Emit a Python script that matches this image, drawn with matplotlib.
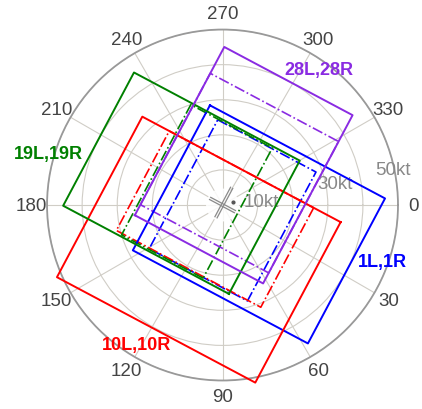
import numpy as np
import matplotlib
matplotlib.use("Agg")
import matplotlib.pyplot as plt

plt.rcParams['font.family'] = ['Liberation Sans', 'DejaVu Sans']

# Runway pairs: true heading and wind limits (kt).
runways = ['1L,1R', '10L,10R', '19L,19R', '28L,28R']
headings = [28, 118, 208, 298]
colors = ['#0000ff', '#ff0000', '#008000', '#8a2be2']

solid_tail = [16.5, 11.5, 13.5, 14.3]
solid_head = [40.0, 40.3, 40.0, 40.0]
solid_cross = [23.4, 32.0, 21.5, 20.7]

dash_tail = [12.6, 11.5, 4.9, 10.9]
dash_head = [19.1, 20.6, 21.4, 31.5]
dash_cross = [20.8, 23.3, 21.0, 20.7]

# label positions (direction deg, speed kt)
label_dir = [19.3, 121.6, 196.4, 305.5]
label_spd = [48.3, 46.6, 51.7, 47.5]

# small airport diagram in the middle: heading, length, centre offset along/across
icon_heading = [28, 28, 118, 118]
icon_length = [8.0, 8.0, 9.5, 9.5]
icon_across = [-0.35, 0.35, -0.35, 0.35]
icon_along = [0.0, 0.0, -0.8, -0.8]

theta_ticks = list(range(0, 360, 30))
r_ticks = [10, 20, 30, 40, 50]
r_labels = ['10kt', '', '30kt', '', '50kt']
# where the speed labels sit (direction deg, speed kt)
r_label_dir = [355.5, 0, 349.4, 0, 348.1]
r_label_spd = [11.0, 0, 32.6, 0, 49.7]


def to_polar(heading, u, v):
    # u = headwind component, v = crosswind component
    u = np.asarray(u, dtype=float)
    v = np.asarray(v, dtype=float)
    theta = np.radians(heading) + np.arctan2(v, u)
    return theta, np.hypot(u, v)


def box(heading, tail, head, cross):
    u = [-tail, head, head, -tail, -tail]
    v = [-cross, -cross, cross, cross, -cross]
    return to_polar(heading, u, v)


fig = plt.figure(figsize=(4.22, 4.10), dpi=100)
ax = fig.add_axes([0.1114, 0.0695, 0.8318, 0.856], projection='polar')
ax.set_theta_zero_location('E')
ax.set_theta_direction(-1)
ax.set_rlim(0, 50)

ax.set_thetagrids(theta_ticks, [str(t) for t in theta_ticks],
                  fontsize=13.5, color='#444444')
ax.set_rgrids(r_ticks, [''] * len(r_ticks))
ax.grid(color='#d0cdc6', linewidth=0.8)
ax.spines['polar'].set_color('#999999')
ax.spines['polar'].set_linewidth(1.3)
ax.tick_params(axis='x', pad=1)

for lab, d, s in zip(r_labels, r_label_dir, r_label_spd):
    if lab:
        ax.text(np.radians(d), s, lab, fontsize=13.5, color='#888888',
                ha='center', va='center', zorder=4)

# white patch behind the airport icon
circ = np.linspace(0, 2 * np.pi, 60)
ax.fill(circ, np.full_like(circ, 4.5), color='white', alpha=0.85, zorder=3)
for h, ln, ac, al in zip(icon_heading, icon_length, icon_across, icon_along):
    t, r = to_polar(h, [al - ln / 2, al + ln / 2], [ac, ac])
    ax.plot(t, r, color='#8a8a8a', lw=0.9, zorder=4)
ax.plot(np.radians(344), 3.1, 'o', color='#555555', ms=2, zorder=4)

for i in range(len(runways)):
    t, r = box(headings[i], dash_tail[i], dash_head[i], dash_cross[i])
    ax.plot(t, r, color=colors[i], lw=1.2, ls='-.', clip_on=False, zorder=5)
for i in range(len(runways)):
    t, r = box(headings[i], solid_tail[i], solid_head[i], solid_cross[i])
    ax.plot(t, r, color=colors[i], lw=1.4, clip_on=False, zorder=6)
    ax.text(np.radians(label_dir[i]), label_spd[i], runways[i], color=colors[i],
            fontsize=13, fontweight='bold', ha='center', va='center', zorder=7)

fig.savefig('out.png', dpi=100)
